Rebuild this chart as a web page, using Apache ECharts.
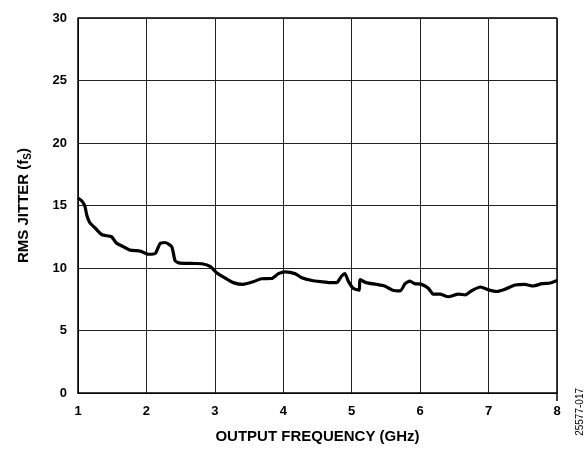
<!DOCTYPE html>
<html>
<head>
<meta charset="utf-8">
<script src="https://cdn.jsdelivr.net/npm/echarts@6/dist/echarts.min.js"></script>
<style>
  html, body { margin: 0; padding: 0; background: #fff; }
  #chart { width: 588px; height: 449px; }
</style>
</head>
<body>
<div id="chart"></div>
<script>
// frequency in GHz, jitter in fs
const freqGHz = [1.00, 1.05, 1.10, 1.13, 1.17, 1.25, 1.35, 1.49, 1.56, 1.63, 1.76, 1.91, 2.03, 2.13, 2.20, 2.27, 2.37, 2.42, 2.49, 2.71, 2.81, 2.93, 3.03, 3.15, 3.27, 3.41, 3.56, 3.68, 3.83, 3.93, 4.03, 4.17, 4.27, 4.42, 4.56, 4.68, 4.78, 4.85, 4.90, 4.95, 5.02, 5.11, 5.12, 5.21, 5.36, 5.48, 5.60, 5.71, 5.78, 5.85, 5.92, 6.02, 6.12, 6.19, 6.29, 6.41, 6.56, 6.66, 6.75, 6.88, 7.00, 7.12, 7.24, 7.39, 7.53, 7.65, 7.78, 7.90, 8.00]
const jitterFs = [15.6, 15.4, 14.96, 14.2, 13.65, 13.2, 12.66, 12.5, 12.0, 11.8, 11.43, 11.35, 11.1, 11.17, 11.96, 12.04, 11.7, 10.57, 10.39, 10.36, 10.34, 10.13, 9.6, 9.2, 8.83, 8.69, 8.9, 9.14, 9.16, 9.55, 9.69, 9.55, 9.22, 9.0, 8.9, 8.83, 8.83, 9.34, 9.55, 8.95, 8.38, 8.22, 9.08, 8.83, 8.69, 8.56, 8.22, 8.17, 8.75, 8.95, 8.75, 8.69, 8.38, 7.91, 7.91, 7.7, 7.91, 7.85, 8.17, 8.48, 8.25, 8.12, 8.3, 8.64, 8.69, 8.56, 8.75, 8.8, 9.0]
const xTicks = [1, 2, 3, 4, 5, 6, 7, 8]
const yTicks = [0, 5, 10, 15, 20, 25, 30]

const FONT = 'Liberation Sans, Arial, sans-serif'
const chart = echarts.init(document.getElementById('chart'))

chart.setOption({
  animation: false,
  grid: { left: 78, right: 31, top: 18, bottom: 48, containLabel: false },
  xAxis: {
    type: 'value',
    min: xTicks[0],
    max: xTicks[xTicks.length - 1],
    interval: 1,
    name: 'OUTPUT FREQUENCY (GHz)',
    nameLocation: 'middle',
    nameGap: 36,
    nameTextStyle: { fontFamily: FONT, fontWeight: 'bold', fontSize: 15, color: '#000' },
    axisLine: { show: true, lineStyle: { color: '#000', width: 1.5 } },
    axisTick: { show: false },
    axisLabel: { fontFamily: FONT, fontWeight: 'bold', fontSize: 13, color: '#000', margin: 12 },
    splitLine: { show: true, lineStyle: { color: '#222', width: 1 } }
  },
  yAxis: {
    type: 'value',
    min: yTicks[0],
    max: yTicks[yTicks.length - 1],
    interval: 5,
    name: 'RMS JITTER (f{s|S})',
    nameLocation: 'middle',
    nameGap: 45,
    nameTextStyle: {
      fontFamily: FONT, fontWeight: 'bold', fontSize: 15, color: '#000',
      rich: { s: { fontFamily: FONT, fontWeight: 'bold', fontSize: 10, color: '#000', padding: [8, 0, 0, 0] } }
    },
    axisLine: { show: true, lineStyle: { color: '#000', width: 1.5 } },
    axisTick: { show: false },
    axisLabel: { fontFamily: FONT, fontWeight: 'bold', fontSize: 13, color: '#000', margin: 11 },
    splitLine: { show: true, lineStyle: { color: '#222', width: 1 } }
  },
  graphic: [
    // top and right frame edges
    { type: 'line', shape: { x1: 78, y1: 18, x2: 557, y2: 18 }, style: { stroke: '#000', lineWidth: 1.5 } },
    { type: 'line', shape: { x1: 557, y1: 18, x2: 557, y2: 401 }, style: { stroke: '#000', lineWidth: 1.5 } },
    {
      type: 'text', left: 575, top: 388, rotation: Math.PI / 2,
      style: { text: '25577-017', fontFamily: FONT, fontSize: 10, fill: '#000' }
    }
  ],
  series: [{
    type: 'line',
    data: freqGHz.map((f, i) => [f, jitterFs[i]]),
    showSymbol: false,
    smooth: 0.2,
    lineStyle: { color: '#000', width: 3.2 },
    clip: false
  }]
})
</script>
</body>
</html>
